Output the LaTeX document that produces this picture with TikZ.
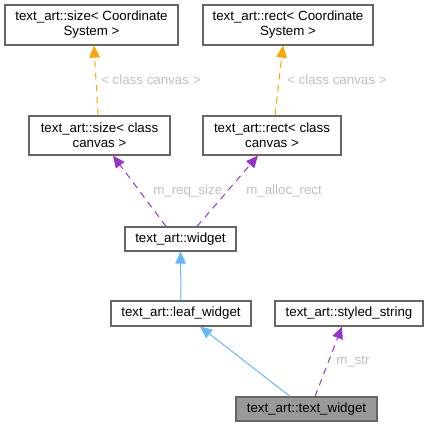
\documentclass[tikz,border=0pt]{standalone}
\usepackage{fontspec}
\setmainfont{Liberation Sans}
\usetikzlibrary{arrows.meta,positioning,calc}
\definecolor{boxgrey}{HTML}{666666}
\definecolor{mainfill}{HTML}{999999}
\definecolor{tmplorange}{HTML}{FFA500}
\definecolor{usepurple}{HTML}{9A32CD}
\definecolor{inhblue}{HTML}{63B8FF}
\definecolor{lblgrey}{HTML}{BFBFBF}

\begin{document}
\begin{tikzpicture}[x=0.75pt, y=-0.75pt,
    cls/.style={rectangle, draw=boxgrey, fill=white, line width=0.9pt, align=center, inner sep=0pt, font=\fontsize{10}{11.25}\selectfont},
    lbl/.style={text=lblgrey, inner sep=0pt, font=\fontsize{10}{12}\selectfont},
    inh/.style={draw=inhblue, line width=0.75pt, -{Triangle[length=9pt, width=8pt]}, fill=inhblue},
    usage/.style={draw=usepurple, line width=0.75pt, dash pattern=on 5pt off 4pt, -{Triangle[length=9pt, width=8pt]}},
    tmpl/.style={draw=tmplorange, line width=0.75pt, dash pattern=on 5pt off 4pt, -{Triangle[length=9pt, width=8pt]}}]
    \useasboundingbox (0,0) rectangle (429,428);
    \node [cls, minimum width=129.75pt, minimum height=30pt] (sizecs) at (91.5,25) {text\_art::size\textless{} Coordinate\\System \textgreater};
    \node [cls, minimum width=127.5pt, minimum height=30pt] (rectcs) at (288,25) {text\_art::rect\textless{} Coordinate\\System \textgreater};
    \node [cls, minimum width=105.75pt, minimum height=29.25pt] (sizecanvas) at (99.5,135.5) {text\_art::size\textless{} class\\canvas \textgreater};
    \node [cls, minimum width=103.5pt, minimum height=29.25pt] (rectcanvas) at (272,135.5) {text\_art::rect\textless{} class\\canvas \textgreater};
    \node [cls, minimum width=83.25pt, minimum height=18pt] (widget) at (180.5,239) {text\_art::widget};
    \node [cls, minimum width=105pt, minimum height=18.75pt] (leaf) at (181,313.5) {text\_art::leaf\_widget};
    \node [cls, minimum width=111pt, minimum height=18.75pt] (styled) at (349,313.5) {text\_art::styled\_string};
    \node [cls, fill=mainfill, minimum width=105.75pt, minimum height=18pt] (textwidget) at (306.5,409) {text\_art::text\_widget};
    \draw[tmpl] ($(sizecanvas.north)+(-1.5,0)$) -- ($(sizecs.south)+(2.5,0)$);
    \draw[tmpl] ($(rectcanvas.north)+(3,0)$) -- ($(rectcs.south)+(-5,0)$);
    \draw[usage] ($(widget.north)+(-14.5,0)$) -- ($(sizecanvas.south)+(13.5,0)$);
    \draw[usage] ($(widget.north)+(16.5,0)$) -- ($(rectcanvas.south)+(-14,0)$);
    \draw[inh] (leaf.north) -- (widget.south);
    \draw[inh] ($(textwidget.north)+(-16.5,0)$) -- ($(leaf.south)+(19,0)$);
    \draw[usage] ($(textwidget.north)+(8.5,0)$) -- ($(styled.south)+(-7,0)$);
    \node [lbl, anchor=west] (lsize) at (101,80) {\textless{} class canvas \textgreater};
    \node [lbl, anchor=west] (lrect) at (287,80) {\textless{} class canvas \textgreater};
    \node [lbl, anchor=west] (lreq) at (153,191) {m\_req\_size};
    \node [lbl, anchor=west] (lalloc) at (246,191) {m\_alloc\_rect};
    \node [lbl, anchor=west] (lstr) at (336,362) {m\_str};
\end{tikzpicture}
\end{document}
